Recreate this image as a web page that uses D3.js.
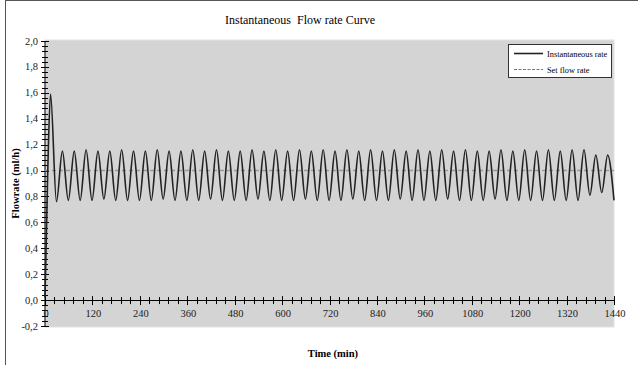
<!DOCTYPE html>
<html>
<head>
<meta charset="utf-8">
<script src="https://cdn.jsdelivr.net/npm/d3@7"></script>
<style>
  body { margin: 0; background: #fff; }
  svg text { font-family: "Liberation Serif", "DejaVu Serif", serif; }
</style>
</head>
<body>
<script>
// time axis (min)
var xTicks = [0, 120, 240, 360, 480, 600, 720, 840, 960, 1080, 1200, 1320, 1440];
var yTicks = [-0.2, 0, 0.2, 0.4, 0.6, 0.8, 1.0, 1.2, 1.4, 1.6, 1.8, 2.0];

// instantaneous flow rate (peaks / troughs)
var flowTimes = [0, 7, 14,
    29, 44, 59, 74, 89, 104, 119, 134, 149, 164,
    179, 194, 209, 224, 239, 254, 269, 284, 299, 314,
    329, 344, 359, 374, 389, 404, 419, 434, 449, 464,
    479, 494, 509, 524, 539, 554, 569, 584, 599, 614,
    629, 644, 659, 674, 689, 704, 719, 734, 749, 764,
    779, 794, 809, 824, 839, 854, 869, 884, 899, 914,
    929, 944, 959, 974, 989, 1004, 1019, 1034, 1049, 1064,
    1079, 1094, 1109, 1124, 1139, 1154, 1169, 1184, 1199, 1214,
    1229, 1244, 1259, 1274, 1289, 1304, 1319, 1334, 1349, 1364,
    1379, 1394, 1409, 1424, 1440];
var flowValues = [0.02, 1.00, 1.59,
    0.76, 1.15, 0.77, 1.15, 0.77, 1.16, 0.77, 1.15, 0.78, 1.15,
    0.77, 1.16, 0.77, 1.15, 0.77, 1.15, 0.77, 1.16, 0.78, 1.15,
    0.77, 1.15, 0.77, 1.16, 0.77, 1.15, 0.78, 1.16, 0.77, 1.15,
    0.77, 1.15, 0.77, 1.16, 0.78, 1.15, 0.77, 1.16, 0.77, 1.15,
    0.77, 1.16, 0.78, 1.15, 0.77, 1.16, 0.77, 1.15, 0.77, 1.16,
    0.78, 1.15, 0.77, 1.16, 0.77, 1.15, 0.77, 1.16, 0.78, 1.15,
    0.77, 1.16, 0.77, 1.15, 0.77, 1.16, 0.78, 1.15, 0.77, 1.16,
    0.77, 1.15, 0.77, 1.15, 0.78, 1.16, 0.77, 1.15, 0.77, 1.16,
    0.77, 1.15, 0.77, 1.16, 0.77, 1.15, 0.77, 1.16, 0.77, 1.16,
    0.81, 1.12, 0.83, 1.12, 0.77];

// set flow rate
var setTimes = [0, 1440];
var setValues = [1.0, 1.0];

var W = 638, H = 365;
var plot = {left: 45, right: 614, top: 40, bottom: 327};
var serif = "'Liberation Serif', 'DejaVu Serif', serif";

var svg = d3.select("body").append("svg")
    .attr("width", W)
    .attr("height", H)
    .attr("font-family", serif);

// frame edges (top / left only visible)
svg.append("line").attr("x1", 5).attr("x2", W).attr("y1", 0.5).attr("y2", 0.5)
    .attr("stroke", "#555").attr("stroke-width", 1);
svg.append("line").attr("x1", 5.5).attr("x2", 5.5).attr("y1", 0).attr("y2", H)
    .attr("stroke", "#555").attr("stroke-width", 1);

var x = d3.scaleLinear().domain([0, 1440]).range([45, 614]);
var y = d3.scaleLinear().domain([-0.2, 2.0]).range([326, 41]);

// plot background
svg.append("rect")
    .attr("x", plot.left)
    .attr("y", plot.top)
    .attr("width", plot.right - plot.left)
    .attr("height", plot.bottom - plot.top)
    .attr("fill", "#d4d4d4")
    .attr("stroke", "#e2e2e2");

var fmt = function(d) { return d3.format(".1f")(d).replace(".", ",").replace("−", "-"); };

// y axis: line + crossing ticks
var yAxis = svg.append("g").attr("class", "y axis");
yAxis.append("line")
    .attr("x1", x(0)).attr("x2", x(0))
    .attr("y1", y(2.0)).attr("y2", y(-0.2))
    .attr("stroke", "#000");
var yMinor = d3.range(-0.2, 2.0001, 0.04);
yMinor.forEach(function(v) {
    yAxis.append("line")
        .attr("x1", x(0) - 3).attr("x2", x(0) + 3)
        .attr("y1", Math.round(y(v)) + 0.5).attr("y2", Math.round(y(v)) + 0.5)
        .attr("stroke", "#000");
});
yTicks.forEach(function(v) {
    yAxis.append("line")
        .attr("x1", x(0) - 4).attr("x2", x(0) + 4)
        .attr("y1", Math.round(y(v)) + 0.5).attr("y2", Math.round(y(v)) + 0.5)
        .attr("stroke", "#000");
    yAxis.append("text")
        .attr("x", 38)
        .attr("y", y(v) + 3.5)
        .attr("text-anchor", "end")
        .attr("font-family", serif)
        .attr("font-size", "10.5px")
        .attr("fill", "#222")
        .text(fmt(v));
});

// x axis at value 0
var xAxis = svg.append("g").attr("class", "x axis");
xAxis.append("line")
    .attr("x1", x(0)).attr("x2", x(1440))
    .attr("y1", Math.round(y(0)) + 0.5).attr("y2", Math.round(y(0)) + 0.5)
    .attr("stroke", "#000");
d3.range(0, 1441, 24).forEach(function(t) {
    xAxis.append("line")
        .attr("x1", Math.round(x(t)) + 0.5).attr("x2", Math.round(x(t)) + 0.5)
        .attr("y1", y(0) - 3).attr("y2", y(0) + 4)
        .attr("stroke", "#000");
});
xTicks.forEach(function(t) {
    xAxis.append("line")
        .attr("x1", Math.round(x(t)) + 0.5).attr("x2", Math.round(x(t)) + 0.5)
        .attr("y1", y(0) - 4).attr("y2", y(0) + 5)
        .attr("stroke", "#000");
    xAxis.append("text")
        .attr("x", x(t) + 1)
        .attr("y", y(0) + 17)
        .attr("text-anchor", "middle")
        .attr("font-family", serif)
        .attr("font-size", "10.5px")
        .attr("fill", "#222")
        .text(t);
});

// set flow rate line
var setLine = d3.line()
    .x(function(d) { return x(d[0]); })
    .y(function(d) { return y(d[1]); });
svg.append("path")
    .datum(setTimes.map(function(t, i) { return [t, setValues[i]]; }))
    .attr("d", setLine)
    .attr("fill", "none")
    .attr("stroke", "#999")
    .attr("stroke-width", 1.5)
    .attr("stroke-dasharray", "4,3");

// instantaneous rate curve
var flowLine = d3.line()
    .curve(d3.curveMonotoneX)
    .x(function(d) { return x(d[0]); })
    .y(function(d) { return y(d[1]); });
svg.append("path")
    .datum(flowTimes.map(function(t, i) { return [t, flowValues[i]]; }))
    .attr("d", flowLine)
    .attr("fill", "none")
    .attr("stroke", "#222")
    .attr("stroke-width", 1.6);

// titles
svg.append("text")
    .attr("x", 300)
    .attr("y", 24)
    .attr("text-anchor", "middle")
    .attr("font-family", serif)
    .attr("font-size", "12px")
    .style("white-space", "pre")
    .text("Instantaneous  Flow rate Curve");

svg.append("text")
    .attr("x", 333)
    .attr("y", 357)
    .attr("text-anchor", "middle")
    .attr("font-family", serif)
    .attr("font-size", "10.5px")
    .attr("font-weight", "bold")
    .text("Time (min)");

svg.append("text")
    .attr("transform", "translate(19," + (plot.top + plot.bottom) / 2 + ") rotate(-90)")
    .attr("text-anchor", "middle")
    .attr("font-family", serif)
    .attr("font-size", "10.5px")
    .attr("font-weight", "bold")
    .text("Flowrate (ml/h)");

// legend
var legend = svg.append("g").attr("transform", "translate(508,44)");
legend.append("rect")
    .attr("x", 0.5).attr("y", 0.5)
    .attr("width", 103).attr("height", 33)
    .attr("fill", "#fff")
    .attr("stroke", "#333");
legend.append("line")
    .attr("x1", 6).attr("x2", 35).attr("y1", 9.5).attr("y2", 9.5)
    .attr("stroke", "#222").attr("stroke-width", 1.6);
legend.append("text")
    .attr("x", 39).attr("y", 12.5)
    .attr("font-family", serif)
    .attr("font-size", "8.3px")
    .text("Instantaneous rate");
legend.append("line")
    .attr("x1", 6).attr("x2", 35).attr("y1", 25.5).attr("y2", 25.5)
    .attr("stroke", "#777").attr("stroke-width", 1)
    .attr("stroke-dasharray", "3,1.5");
legend.append("text")
    .attr("x", 39).attr("y", 28.5)
    .attr("font-family", serif)
    .attr("font-size", "8.3px")
    .text("Set flow rate");
</script>
</body>
</html>
